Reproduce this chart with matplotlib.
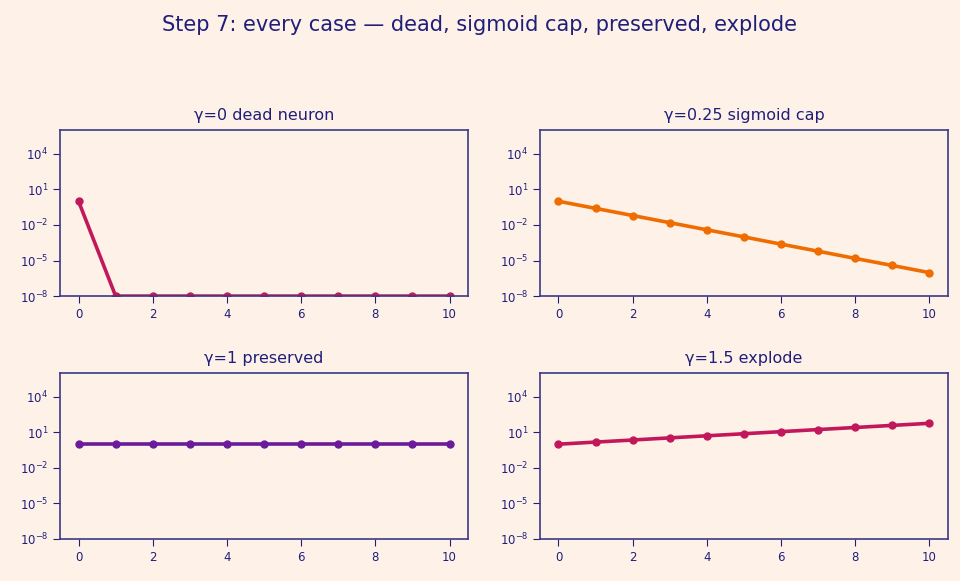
import matplotlib
matplotlib.use("Agg")
import matplotlib.pyplot as plt

steps = [0, 1, 2, 3, 4, 5, 6, 7, 8, 9, 10]
dead = [1.0, 1e-8, 1e-8, 1e-8, 1e-8, 1e-8, 1e-8, 1e-8, 1e-8, 1e-8, 1e-8]
sigmoid_cap = [1.0, 0.25, 0.0625, 0.0156, 0.0039, 9.8e-4, 2.4e-4, 6.1e-5, 1.5e-5, 3.8e-6, 9.5e-7]
preserved = [1.0, 1.0, 1.0, 1.0, 1.0, 1.0, 1.0, 1.0, 1.0, 1.0, 1.0]
explode = [1.0, 1.5, 2.25, 3.4, 5.1, 7.6, 11.4, 17.1, 25.6, 38.4, 57.7]

titles = ["γ=0 dead neuron", "γ=0.25 sigmoid cap", "γ=1 preserved", "γ=1.5 explode"]
series = [dead, sigmoid_cap, preserved, explode]
colors = ["#c2185b", "#ef6c00", "#6a1b9a", "#c2185b"]

bg = "#fef2e8"
ink = "#1f1f7a"
spine = "#3b3b85"

fig, axes = plt.subplots(2, 2, figsize=(9.6, 5.81), dpi=100)
fig.patch.set_facecolor(bg)
fig.subplots_adjust(left=0.0625, right=0.9875, top=0.776, bottom=0.0723,
                    wspace=0.176, hspace=0.464)

for ax, ys, t, c in zip(axes.flat, series, titles, colors):
    ax.set_facecolor(bg)
    ax.plot(steps, ys, color=c, lw=2.6, marker="o", ms=5)
    ax.set_yscale("log")
    ax.set_ylim(1e-8, 1e6)
    ax.set_yticks([1e-8, 1e-5, 1e-2, 1e1, 1e4])
    ax.minorticks_off()
    ax.set_xticks([0, 2, 4, 6, 8, 10])
    ax.set_xlim(-0.5, 10.5)
    ax.set_title(t, color=ink, fontsize=11.5, pad=7)
    ax.tick_params(colors=ink, labelsize=8.5, which="both", length=5)
    for s in ax.spines.values():
        s.set_color(spine)
        s.set_linewidth(1.2)

fig.suptitle("Step 7: every case — dead, sigmoid cap, preserved, explode",
             color=ink, fontsize=15, y=0.975)

fig.savefig("out.png", dpi=100, facecolor=bg)
